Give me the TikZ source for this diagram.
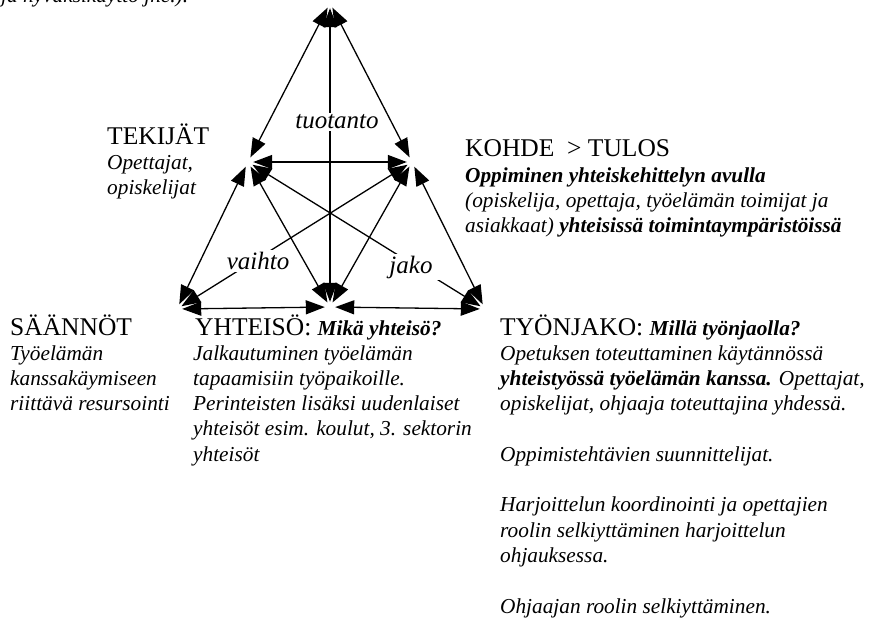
\documentclass[tikz,border=0pt]{standalone}
\usepackage{fontspec}
\setmainfont{Liberation Serif}
\usetikzlibrary{arrows.meta}

% type sizes: headings, italic body text, bold-italic emphasis
\newcommand\headfont{\fontsize{25.5}{29}\selectfont}
\newcommand\bodyfont{\fontsize{21.3}{25.3}\selectfont\itshape}
\newcommand\flowfont{\fontsize{25}{29}\selectfont\itshape}
\newcommand\bi[1]{{\bfseries\itshape #1}}
% a stack of body lines, first baseline at the node's base
\newcommand\lines[1]{\vtop{\bodyfont #1}}

\begin{document}
\begin{tikzpicture}[x=1pt,y=-1pt,
  >={Triangle[length=19pt,width=14pt]},
  link/.style={line width=1.3pt,<->},
  corner/.style={circle,inner sep=0pt,minimum size=10pt},
  head/.style={font=\headfont,inner sep=0pt,anchor=base west},
  body/.style={font=\bodyfont,inner sep=0pt,anchor=base west},
  flow/.style={font=\flowfont,fill=white,inner xsep=4pt,inner ysep=2pt}]
\useasboundingbox (0,0) rectangle (882,621);

% corners of the activity triangle
\node[corner] (T)  at (330,3) {};
\node[corner] (L)  at (248,162) {};
\node[corner] (R)  at (412,162) {};
\node[corner] (BL) at (177,309) {};
\node[corner] (BC) at (330,307) {};
\node[corner] (BR) at (485,309) {};

% connections
\draw[link] (L) -- (T);
\draw[link] (R) -- (T);
\draw[link] (BC) -- (T);
\draw[link] (L) -- (R);
\draw[link] (L) -- (BL);
\draw[link] (L) -- (BC);
\draw[link] (R) -- (BC);
\draw[link] (R) -- (BR);
\draw[link] (BL) -- (BC);
\draw[link] (BC) -- (BR);
\draw[link] (L) -- (BR);
\draw[link] (R) -- (BL);

% labels on the connections
\node[flow] (tuotanto) at (337,122) {tuotanto};
\node[flow] (vaihto) at (258,261) {vaihto};
\node[flow,inner xsep=9pt] (jako) at (411,267) {jako};

% texts
\node[body] (note) at (1,2.5) {ja hyväksikäyttö jne.).};

\node[head] (tekijat) at (107,144) {TEKIJÄT};
\node[body] (tekijatb) at (107,169) {\lines{\hbox{Opettajat,}\hbox{opiskelijat}}};

\node[head] (kohde) at (465,156) {KOHDE\ \ > TULOS};
\node[body] (kohdeb) at (465,182) {\lines{%
  \hbox{\bi{Oppiminen yhteiskehittelyn avulla}}
  \hbox{(opiskelija, opettaja, työelämän toimijat ja}
  \hbox{asiakkaat) \bi{yhteisissä toimintaympäristöissä}}}};

\node[head] (saannot) at (10,335) {SÄÄNNÖT};
\node[body] (saannotb) at (10,360) {\lines{%
  \hbox{Työelämän}
  \hbox{kanssakäymiseen}
  \hbox{riittävä resursointi}}};

\node[head] (yhteiso) at (195,335) {YHTEISÖ: {\bodyfont\bi{Mikä yhteisö?}}};
\node[body] (yhteisob) at (193,360) {\lines{%
  \hbox{Jalkautuminen työelämän}
  \hbox{tapaamisiin työpaikoille.}
  \hbox{Perinteisten lisäksi uudenlaiset}
  \hbox{yhteisöt esim. koulut, 3. sektorin}
  \hbox{yhteisöt}}};

\node[head] (tyonjako) at (500,335) {TYÖNJAKO: {\bodyfont\bi{Millä työnjaolla?}}};
\node[body] (tyonjakob) at (500,360) {\lines{%
  \hbox{Opetuksen toteuttaminen käytännössä}
  \hbox{\bi{yhteistyössä työelämän kanssa.} Opettajat,}
  \hbox{opiskelijat, ohjaaja toteuttajina yhdessä.}
  \hbox{}
  \hbox{Oppimistehtävien suunnittelijat.}
  \hbox{}
  \hbox{Harjoittelun koordinointi ja opettajien}
  \hbox{roolin selkiyttäminen harjoittelun}
  \hbox{ohjauksessa.}
  \hbox{}
  \hbox{Ohjaajan roolin selkiyttäminen.}}};
\end{tikzpicture}
\end{document}
